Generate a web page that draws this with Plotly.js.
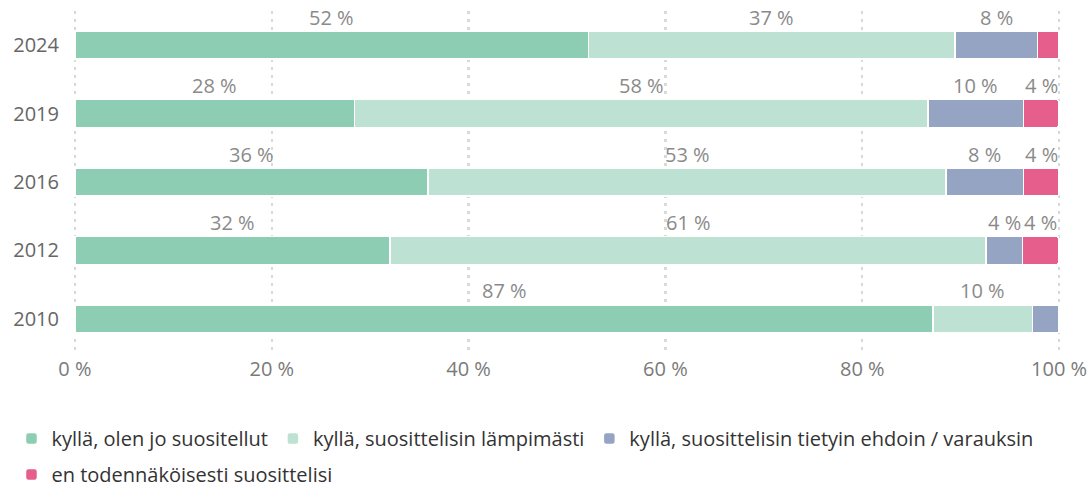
<!DOCTYPE html>
<html>
<head>
<meta charset="utf-8">
<script src="https://cdn.plot.ly/plotly-3.0.1.min.js"></script>
<style>html,body{margin:0;padding:0;background:#fff;}#chart{width:1091px;height:487px;}</style>
</head>
<body>
<div id="chart"></div>
<script>
var years = ["2024", "2019", "2016", "2012", "2010"];
var seriesNames = [
  "kyllä, olen jo suositellut",
  "kyllä, suosittelisin lämpimästi",
  "kyllä, suosittelisin tietyin ehdoin / varauksin",
  "en todennäköisesti suosittelisi"
];
var olenJo = [52.2, 28.4, 35.9, 32.0, 87.2];
var lampimasti = [37.2, 58.3, 52.6, 60.6, 10.1];
var ehdoin = [8.4, 9.7, 7.9, 3.7, 2.7];
var enSuosittelisi = [2.2, 3.6, 3.6, 3.7, 0];
var colors = ["#8dcdb4", "#bde2d4", "#95a4c3", "#e55e8c"];
var tickValues = [0, 20, 40, 60, 80, 100];
var tickLabels = ["0 %", "20 %", "40 %", "60 %", "80 %", "100 %"];

var allSeries = [olenJo, lampimasti, ehdoin, enSuosittelisi];
var FONT = "Open Sans, Noto Sans, sans-serif";

var traces = allSeries.map(function (vals, i) {
  return {
    type: "bar",
    orientation: "h",
    name: seriesNames[i],
    x: vals,
    y: years,
    marker: { color: colors[i], line: { color: "#ffffff", width: 1.5 } },
    legend: i < 3 ? "legend" : "legend2"
  };
});

var annotations = [];
years.forEach(function (yr, j) {
  var cum = 0;
  allSeries.forEach(function (vals) {
    var v = vals[j];
    var r = Math.round(v);
    if (r >= 4) {
      annotations.push({
        x: cum + v / 2, y: j, xref: "x", yref: "y",
        text: r + " %", showarrow: false, yshift: 28,
        font: { family: FONT, size: 20, color: "#8a8a8a" }
      });
    }
    cum += v;
  });
});

var layout = {
  width: 1091, height: 487,
  margin: { l: 71, r: 28, t: 11, b: 134, autoexpand: false },
  paper_bgcolor: "#ffffff", plot_bgcolor: "#ffffff",
  barmode: "stack",
  bargap: 0.59,
  barcornerradius: 3,
  font: { family: FONT, size: 20, color: "#666" },
  xaxis: {
    range: [-0.4, 100.4],
    tickmode: "array",
    tickvals: tickValues,
    ticktext: tickLabels,
    showgrid: true, gridcolor: "#d9d9d9", gridwidth: 2.5, griddash: "3px,5px",
    zeroline: false, showline: false, ticks: "",
    ticklabelstandoff: 2,
    tickfont: { family: FONT, size: 20, color: "#7a7a7a" }
  },
  yaxis: {
    type: "category",
    categoryorder: "array",
    categoryarray: years,
    range: [years.length - 0.5, -0.5],
    autorange: false,
    showgrid: false, zeroline: false, showline: false, ticks: "",
    ticklabelstandoff: 11,
    tickfont: { family: FONT, size: 20, color: "#666" }
  },
  showlegend: true,
  legend: {
    orientation: "h", traceorder: "normal", x: -0.06, xanchor: "left", y: -0.193, yanchor: "top",
    font: { family: FONT, size: 20, color: "#333" },
    bgcolor: "rgba(0,0,0,0)"
  },
  legend2: {
    orientation: "h", traceorder: "normal", x: -0.06, xanchor: "left", y: -0.298, yanchor: "top",
    font: { family: FONT, size: 20, color: "#333" },
    bgcolor: "rgba(0,0,0,0)"
  },
  annotations: annotations
};

Plotly.newPlot("chart", traces, layout, { displayModeBar: false, staticPlot: true });
</script>
</body>
</html>
